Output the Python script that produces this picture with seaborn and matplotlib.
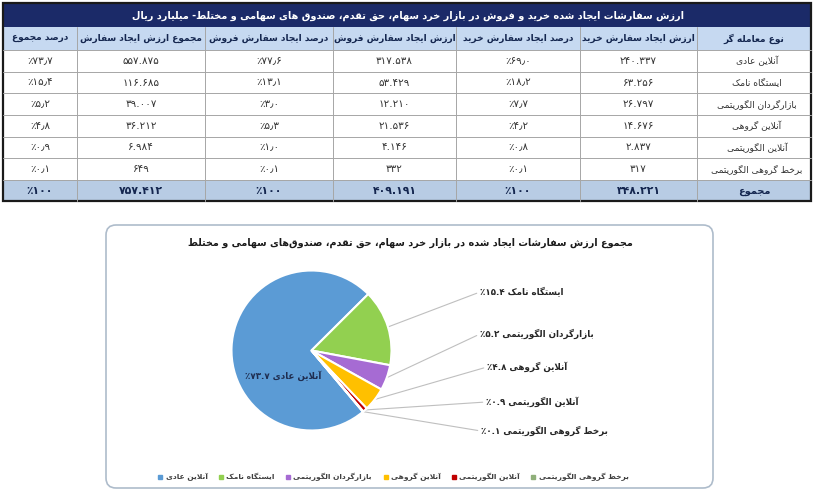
import numpy as np
import matplotlib
matplotlib.use("Agg")
import matplotlib.pyplot as plt
import seaborn as sns
from matplotlib.patches import Rectangle, FancyBboxPatch
from matplotlib.lines import Line2D

# ---------------- data ----------------
categories = ["آنلاین عادی", "ایستگاه نامک", "بازارگردان الگوریتمی",
              "آنلاین گروهی", "آنلاین الگوریتمی", "برخط گروهی الگوریتمی"]
buy_value = [240337, 63256, 26797, 14676, 2837, 317]
buy_pct = [69.0, 18.2, 7.7, 4.2, 0.8, 0.1]
sell_value = [317538, 53429, 12210, 21536, 4146, 332]
sell_pct = [77.6, 13.1, 3.0, 5.3, 1.0, 0.1]
total_value = [557875, 116685, 39007, 36212, 6984, 649]
total_pct = [73.7, 15.4, 5.2, 4.8, 0.9, 0.1]
sum_buy = 348221
sum_sell = 409191
sum_total = 757412
sum_pct = 100
headers = ["نوع معامله گر", "ارزش ایجاد سفارش خرید", "درصد ایجاد سفارش خرید",
           "ارزش ایجاد سفارش فروش", "درصد ایجاد سفارش فروش",
           "مجموع ارزش ایجاد سفارش", "درصد مجموع"]
total_label = "مجموع"
table_title = ("ارزش سفارشات ایجاد شده خرید و فروش در بازار خرد سهام، حق تقدم، "
               "صندوق های سهامی و مختلط- میلیارد ریال")
pie_title = ("مجموع ارزش سفارشات ایجاد شده در بازار خرد سهام، حق تقدم، "
             "صندوق\u200cهای سهامی و مختلط")
colors = ["#5B9BD5", "#92D050", "#A66BD3", "#FFC000", "#C00000", "#8FAF7A"]

# ---------------- Persian shaping helpers ----------------
R_FORMS = {'ا': (0xFE8D, 0xFE8E), 'آ': (0xFE81, 0xFE82), 'د': (0xFEA9, 0xFEAA),
           'ذ': (0xFEAB, 0xFEAC), 'ر': (0xFEAD, 0xFEAE), 'ز': (0xFEAF, 0xFEB0),
           'ژ': (0xFB8A, 0xFB8B), 'و': (0xFEED, 0xFEEE),
           'LA': (0xFEFB, 0xFEFC), 'LAA': (0xFEF5, 0xFEF6)}
D_BASE = {'ب': 0xFE8F, 'ت': 0xFE95, 'ث': 0xFE99, 'ج': 0xFE9D, 'ح': 0xFEA1,
          'خ': 0xFEA5, 'س': 0xFEB1, 'ش': 0xFEB5, 'ص': 0xFEB9, 'ض': 0xFEBD,
          'ط': 0xFEC1, 'ظ': 0xFEC5, 'ع': 0xFEC9, 'غ': 0xFECD, 'ف': 0xFED1,
          'ق': 0xFED5, 'ل': 0xFEDD, 'م': 0xFEE1, 'ن': 0xFEE5, 'ه': 0xFEE9,
          'پ': 0xFB56, 'چ': 0xFB7A, 'ک': 0xFB8E, 'گ': 0xFB92, 'ی': 0xFBFC}


def _jt(t):
    if t in D_BASE:
        return 'D'
    if t in R_FORMS:
        return 'R'
    return 'U'


def rtl(s):
    toks = []
    i = 0
    while i < len(s):
        c = s[i]
        if c == 'ل' and i + 1 < len(s) and s[i + 1] in 'اآ':
            toks.append('LA' if s[i + 1] == 'ا' else 'LAA')
            i += 2
        else:
            toks.append(c)
            i += 1
    out = []
    for k, t in enumerate(toks):
        typ = _jt(t)
        if typ == 'U':
            if t != '\u200c':
                out.append(t)
            continue
        p = k > 0 and _jt(toks[k - 1]) == 'D'
        n = typ == 'D' and k + 1 < len(toks) and _jt(toks[k + 1]) in 'DR'
        if typ == 'R':
            out.append(chr(R_FORMS[t][1 if p else 0]))
        else:
            b = D_BASE[t]
            out.append(chr(b + (3 if (p and n) else 1 if p else 2 if n else 0)))
    return ''.join(reversed(out))


FA = str.maketrans('0123456789', '۰۱۲۳۴۵۶۷۸۹')


def num(v):
    return f"{v:,}".replace(',', '.').translate(FA)


def pct(v, dec=True):
    s = f"{v:.1f}".replace('.', '٫') if dec else f"{v:d}"
    return '٪' + s.translate(FA)


# ---------------- figure ----------------
sns.set_theme(style="white")
plt.rcParams['font.family'] = ['DejaVu Sans']

W, H = 815, 501
fig = plt.figure(figsize=(W / 100, H / 100), dpi=100)
bg = fig.add_axes([0, 0, 1, 1])
bg.set_xlim(0, W)
bg.set_ylim(H, 0)
bg.axis('off')

# ---------------- table ----------------
xe = [3, 77, 205, 333, 456, 580, 697, 811]
ye = [3, 27, 50, 71.7, 93.3, 115, 136.7, 158.3, 180, 201]
navy = "#1B2A68"
bg.add_patch(Rectangle((xe[0], ye[0]), xe[-1] - xe[0], ye[1] - ye[0], fc=navy, ec='none'))
bg.add_patch(Rectangle((xe[0], ye[1]), xe[-1] - xe[0], ye[2] - ye[1], fc="#C6D9F1", ec='none'))
bg.add_patch(Rectangle((xe[0], ye[-2]), xe[-1] - xe[0], ye[-1] - ye[-2], fc="#B8CCE4", ec='none'))
for x in xe[1:-1]:
    bg.plot([x, x], [ye[1], ye[-1]], color="#A6A6A6", lw=0.7)
for y in ye[2:-1]:
    bg.plot([xe[0], xe[-1]], [y, y], color="#A6A6A6", lw=0.7)
bg.add_patch(Rectangle((xe[0], ye[0]), xe[-1] - xe[0], ye[-1] - ye[0], fill=False,
                       ec="#1a1a1a", lw=1.6))

bg.text(408, (ye[0] + ye[1]) / 2 + 0.5, rtl(table_title), color='white',
        fontsize=7.0, fontweight='bold', ha='center', va='center')

xc = [(xe[j] + xe[j + 1]) / 2 for j in range(7)]
for j, h in enumerate(reversed(headers)):
    bg.text(xc[j], (ye[1] + ye[2]) / 2, rtl(h), color="#14264F", fontsize=6.5,
            fontweight='bold', ha='center', va='center')

for i in range(len(categories)):
    cells = [pct(total_pct[i]), num(total_value[i]), pct(sell_pct[i]), num(sell_value[i]),
             pct(buy_pct[i]), num(buy_value[i]), rtl(categories[i])]
    yc = (ye[2 + i] + ye[3 + i]) / 2
    for j, c in enumerate(cells):
        x = xc[j] + (3 if j == 6 else 0)
        fs = 6.6 if j == 6 else 7.5
        bg.text(x, yc, c, color="#333333", fontsize=fs, ha='center', va='center')

tot_cells = [pct(sum_pct, False), num(sum_total), pct(sum_pct, False), num(sum_sell),
             pct(sum_pct, False), num(sum_buy), rtl(total_label)]
yc = (ye[-2] + ye[-1]) / 2
for j, c in enumerate(tot_cells):
    bg.text(xc[j], yc, c, color="#14264F", fontsize=7.8 if j < 6 else 7, fontweight='bold',
            ha='center', va='center')

# ---------------- pie chart panel ----------------
bg.add_patch(FancyBboxPatch((106, 225), 607, 263, boxstyle="round,pad=0,rounding_size=10",
                            fc='white', ec="#AEBCCB", lw=1.2))
bg.text(410, 243, rtl(pie_title), color="#1a1a1a", fontsize=6.9, fontweight='bold',
        ha='center', va='center')

R = 80
cx, cy = 311.5, 350.5
half = 1.3 * R
pax = fig.add_axes([(cx - half) / W, (H - cy - half) / H, 2 * half / W, 2 * half / H])
wedges, _ = pax.pie(total_value, colors=colors, startangle=-50, counterclock=False,
                    wedgeprops=dict(edgecolor='white', linewidth=1.5))
pax.set_xlim(-1.3, 1.3)
pax.set_ylim(-1.3, 1.3)
pax.set_aspect('auto')
pax.axis('off')

pax.text(283, 376, '٪' + f"{total_pct[0]:.1f}".translate(FA) + ' ' + rtl(categories[0]),
         transform=bg.transData, color="#1F2D4F", fontsize=6.3, fontweight='bold',
         ha='center', va='center')

label_xy = [(480, 292), (480, 334), (487, 367), (486, 402), (481, 431)]
for k in range(1, 6):
    w = wedges[k]
    ang = np.deg2rad((w.theta1 + w.theta2) / 2)
    txt = '٪' + f"{total_pct[k]:.1f}".translate(FA) + ' ' + rtl(categories[k])
    bg.annotate(txt, xy=(np.cos(ang), np.sin(ang)), xycoords=pax.transData,
                xytext=label_xy[k - 1], textcoords='data', ha='left', va='center',
                fontsize=6.3, fontweight='bold', color="#262626",
                arrowprops=dict(arrowstyle='-', color="#BFBFBF", lw=0.8,
                                shrinkA=0, shrinkB=0, relpos=(0, 0.5)))

handles = [Line2D([], [], marker='s', ls='', color=c, markersize=3.5) for c in colors]
leg = fig.legend(handles, [rtl(c) for c in categories], ncol=6, loc='center',
                 bbox_to_anchor=(393 / W, 1 - 477 / H), frameon=False,
                 prop={'weight': 'bold', 'size': 5.4}, handletextpad=0.3,
                 columnspacing=1.4, handlelength=0.8)
for t in leg.get_texts():
    t.set_color("#404040")

fig.savefig("out.png", dpi=100)
